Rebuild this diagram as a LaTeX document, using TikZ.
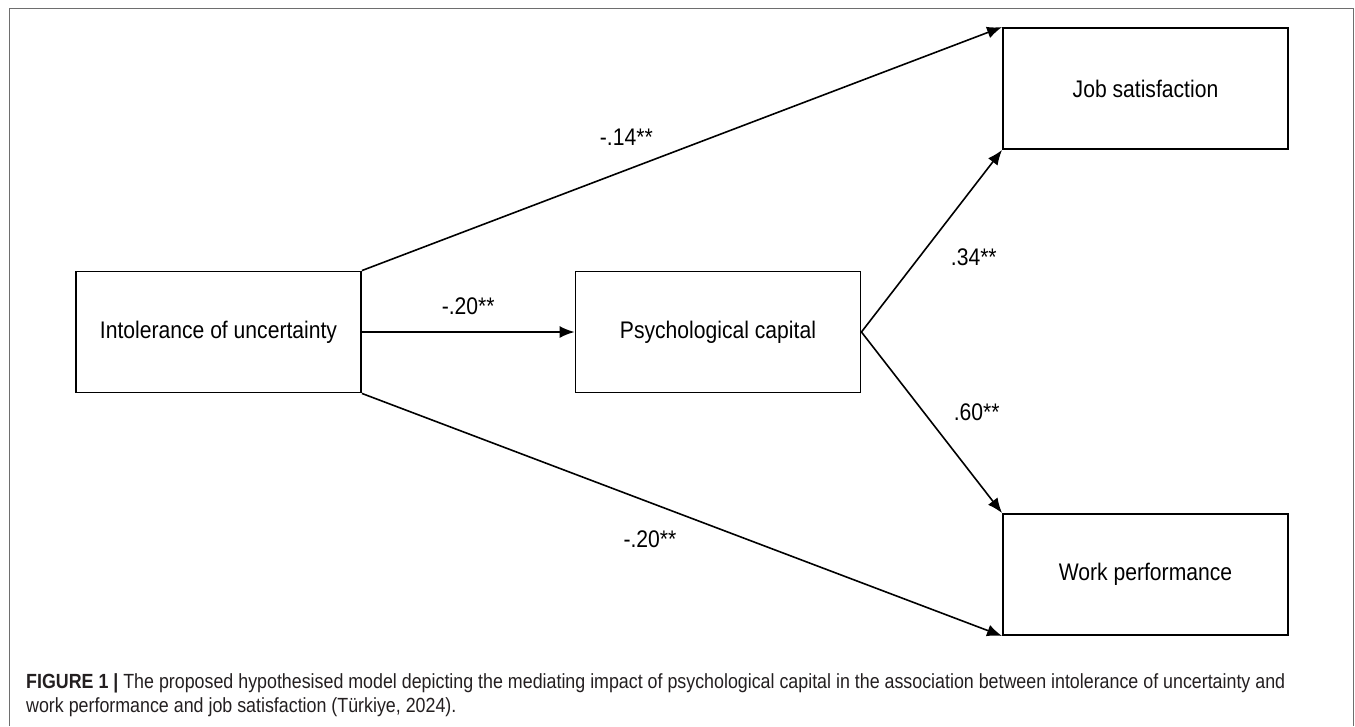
\documentclass[tikz,border=0pt]{standalone}
\usepackage{fontspec}
\setmainfont{Liberation Sans}
\newfontfamily\diagfont[FakeStretch=0.88]{Liberation Sans}
\newfontfamily\capfont[FakeStretch=0.87]{Liberation Sans}
\usetikzlibrary{arrows.meta,positioning}
\definecolor{framegray}{HTML}{6E6E6E}
\definecolor{captext}{HTML}{231F20}

\begin{document}
\begin{tikzpicture}[x=1pt,y=1pt,node distance=499.5pt,on grid,
  box/.style={draw,line width=1.9pt,minimum width=285pt,minimum height=121pt,inner sep=0pt,font=\diagfont\fontsize{24}{28}\selectfont},
  coef/.style={inner sep=0pt,font=\diagfont\fontsize{24}{28}\selectfont},
  caption/.style={inner sep=0pt,text=captext,font=\capfont\fontsize{20.5}{24.5}\selectfont}]
   \useasboundingbox (0,0) rectangle (1355,-726);
   % outer frame, open at the bottom
   \draw[framegray,line width=1.5pt] (9.5,-726) -- (9.5,-8.5) -- (1353.5,-8.5) -- (1353.5,-726);
   \node [box] (iou) at (218.5,-332) {Intolerance of uncertainty};
   \node [box] (pcap) [right=of iou] {Psychological capital};
   \node [box] (jobsat) [above right=243.5pt and 427.5pt of pcap] {Job satisfaction};
   \node [box] (workperf) [below right=242.5pt and 427.5pt of pcap] {Work performance};
    \path[-{Latex[length=15pt,width=12pt]},line width=1.6pt]
    (iou.north east) edge node[coef,pos=.413,above=24pt] {-.14**} (jobsat.north west)
    (iou) edge node[coef,above=16pt] {-.20**} (pcap)
    (iou.south east) edge node[coef,pos=.45,below=27pt] {-.20**} (workperf.south west)
    (pcap.east) edge node[coef,pos=.41,right=31pt] {.34**} (jobsat.south west)
                edge node[coef,pos=.445,right=29pt] {.60**} (workperf.north west);
   % caption
   \node [caption,anchor=base west] (cap1) at (26,-688) {{\bfseries FIGURE 1 |} The proposed hypothesised model depicting the mediating impact of psychological capital in the association between intolerance of uncertainty and};
   \node [caption,anchor=base west] (cap2) at (26,-712.5) {work performance and job satisfaction (Türkiye, 2024).};
\end{tikzpicture}
\end{document}
